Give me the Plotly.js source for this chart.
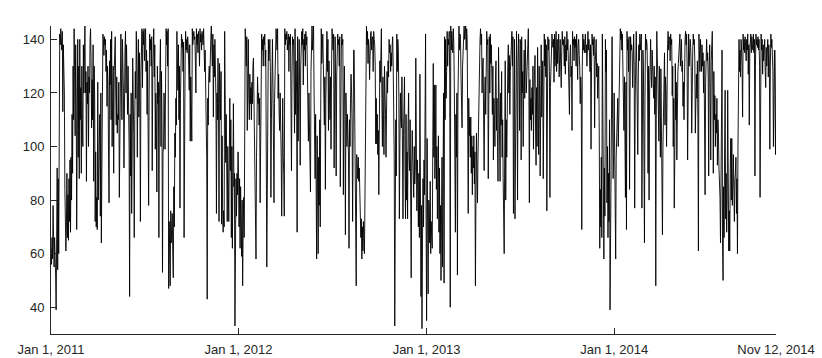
<!DOCTYPE html>
<html>
<head>
<meta charset="utf-8">
<script src="https://cdn.plot.ly/plotly-3.0.1.min.js"></script>
<style>
html,body{margin:0;padding:0;background:#fff;}
#chart{width:822px;height:358px;}
</style>
</head>
<body>
<div id="chart"></div>
<script>
// Daily values, one array per year
var v2011 = [
62,56,66,58,78,60,55,66,60,52,
39,70,92,54,88,60,110,142,138,144,
140,136,143,113,138,130,120,84,62,61,
70,90,66,82,65,88,72,95,68,96,
80,112,90,130,110,144,128,104,138,120,
69,112,140,96,130,88,140,110,122,90,
130,110,100,138,120,132,145,120,128,87,
124,116,130,100,126,120,140,144,132,107,
125,110,138,87,130,118,72,98,70,81,
69,124,80,100,112,112,74,120,64,98,
138,142,140,134,141,138,140,128,136,115,
130,124,96,79,132,123,140,110,143,100,
118,130,90,128,136,141,120,108,126,105,
112,110,124,81,118,138,142,126,110,140,
132,120,92,130,136,143,120,138,127,112,
130,118,100,44,112,89,120,75,98,133,
120,104,66,110,128,118,143,130,96,124,
140,111,135,118,72,128,140,144,122,143,
138,144,132,140,144,128,136,112,132,105,
78,120,142,136,140,130,141,91,128,138,
144,126,138,99,120,110,83,130,116,124,
66,118,132,140,100,128,110,53,98,99,
120,106,99,124,144,138,143,130,144,47,
72,61,48,76,64,70,75,60,51,85,
70,105,96,118,108,143,126,121,138,110,
130,77,118,136,142,137,140,128,139,66,
120,132,143,136,140,135,141,138,130,121,
138,102,126,110,102,144,138,141,143,140,
141,132,120,144,138,142,135,143,140,130,
144,139,142,136,143,141,138,144,135,128,
136,121,112,96,43,118,108,126,130,124,
138,140,145,136,130,142,111,138,126,140,
132,118,75,120,110,133,116,72,131,122,
110,128,71,104,77,68,76,70,143,98,
94,112,80,72,100,74,72,96,118,91,
110,66,100,62,97,116,85,90,33,60,
88,74,90,82,98
];
var v2012 = [
90,70,88,62,85,
76,59,80,48,70,81,66,120,144,138,
130,141,106,125,140,118,110,127,116,122,
110,124,116,130,133,118,104,90,72,58,
96,110,126,116,120,108,118,79,112,130,
142,136,140,130,141,138,142,130,136,110,
55,84,120,140,132,138,140,128,81,110,
126,140,122,108,79,116,130,138,144,140,
136,144,118,127,112,106,120,110,96,74,
104,118,96,90,74,144,138,142,140,143,
136,140,142,128,141,138,142,120,91,126,
141,138,140,122,105,144,112,132,120,68,
141,102,136,140,118,93,130,141,143,138,
144,123,140,136,142,130,143,138,141,126,
132,102,120,110,96,83,128,140,145,136,
143,145,120,101,88,112,96,58,104,82,
60,96,78,110,70,118,144,131,138,142,
131,120,108,126,84,118,136,143,128,140,
106,132,118,110,126,99,130,144,140,136,
142,92,138,141,120,89,126,132,142,138,
140,130,141,85,128,136,142,138,140,82,
118,130,110,67,120,104,100,112,104,96,
62,110,100,118,127,120,108,72,116,136,
136,110,121,93,48,97,90,88,96,87,
92,80,84,66,73,58,70,61,72,66,
60,80,112,130,145,138,143,131,140,136,
125,138,142,143,136,140,141,128,143,140,
138,130,101,118,101,112,97,106,82,120,
132,124,136,144,118,100,126,110,97,130,
124,112,96,110,128,120,132,126,140,135,
138,128,135,130,138,141,130,120,96,33,
70,110,89,142,128,140,136,118,73,101,
120,110,107,126,92,73,104,118,126,90,
73,112,80,98,73,108,120,96,91,110,
84,51,92,106,96,88,81,100,86,92,
133,88,76,95,82,70,90,66,127,80,
44,78,32,64,88,70,95,82,110,142,
72
];
var v2013 = [
35,103,60,45,80,79,64,87,60,72,
66,62,100,131,96,123,88,95,123,84,
100,73,88,104,68,92,60,78,50,70,
96,55,84,120,49,141,110,140,118,128,
143,130,140,138,143,126,40,145,136,143,
140,135,144,138,120,100,68,112,96,120,
52,118,130,145,136,142,140,126,118,107,
130,138,142,145,140,143,145,136,144,140,
120,75,118,104,111,96,111,90,104,82,
100,92,104,86,98,48,80,105,90,79,
96,110,128,136,140,144,138,142,120,130,
133,110,91,118,126,112,132,143,138,140,
88,136,141,120,142,131,138,126,112,130,
95,118,110,100,124,132,106,118,100,87,
137,112,104,87,120,108,128,96,110,88,
76,60,98,132,80,110,96,124,130,138,
120,134,112,128,136,140,143,130,141,75,
120,140,73,118,136,143,126,80,132,142,
130,106,140,138,95,141,120,128,100,124,
136,118,140,130,120,125,134,140,144,128,
79,125,110,118,106,122,112,130,99,120,
126,134,108,93,122,100,137,116,97,130,
120,89,128,138,111,124,132,88,136,142,
130,140,126,138,76,120,141,136,140,128,
81,122,134,130,142,138,137,140,124,142,
130,136,143,128,140,131,138,142,126,136,
140,130,122,136,143,138,140,137,130,141,
127,138,132,143,136,140,124,130,112,134,
138,126,130,106,143,138,140,132,141,137,
140,130,142,136,125,138,140,134,130,116,
126,120,69,130,142,136,140,135,138,142,
135,138,130,141,143,136,140,135,128,138,
99,130,142,138,140,134,141,107,130,136,
140,126,131,118,124,130,105,62,84,70,
96,66,142,110,88,58,92,74,140,128,
136,79,100,66,90,72,110,39,73,96,
120,141,110,88,97
];
var v2014 = [
120,84,100,58,96,104,108,118,100,112,
130,138,144,140,143,136,142,130,120,106,
126,110,81,124,69,143,136,140,128,141,
84,120,141,136,138,135,122,140,142,130,
77,118,136,143,130,112,97,126,138,132,
142,136,140,142,77,120,136,130,110,64,
118,142,136,140,138,126,90,130,80,120,
132,140,128,122,136,130,124,118,130,112,
126,48,110,143,133,127,110,102,130,118,
96,129,110,84,67,100,122,118,135,108,
126,120,100,132,138,143,136,141,140,132,
142,138,140,119,130,100,118,77,96,131,
110,124,95,120,128,131,136,140,142,130,
136,140,128,132,115,124,110,136,140,143,
138,142,130,95,136,142,130,138,140,137,
128,105,130,136,142,138,140,132,105,120,
127,118,132,110,61,142,136,128,140,134,
128,138,130,135,120,132,110,82,124,136,
140,132,135,126,89,130,138,120,95,132,
136,143,120,90,128,110,119,100,112,105,
118,93,110,105,92,86,81,64,88,96,
136,62,50,85,66,100,121,73,90,68,
80,121,88,61,76,61,92,103,80,103,
78,90,97,84,72,88,90,96,75,88,
60,100,118,140,128,136,126,140,136,130,
111,142,136,140,135,141,138,132,140,136,
142,127,138,108,136,140,142,135,141,138,
136,142,135,140,89,130,142,138,140,137,
141,136,140,130,81,128,142,136,140,127,
138,132,136,140,128,122,137,130,136,140,
126,138,132,99,130,142,137,140,136,128,
100,132,136,120,97,136
];
var years = [2011, 2012, 2013, 2014];
var yearValues = [v2011, v2012, v2013, v2014];
var tickVals = ['2011-01-01', '2012-01-01', '2013-01-01', '2014-01-01', '2014-11-12'];
var tickText = ['Jan 1, 2011', 'Jan 1, 2012', 'Jan 1, 2013', 'Jan 1, 2014', 'Nov 12, 2014'];
var yTicks = [40, 60, 80, 100, 120, 140];

function pad(n){return (n<10?'0':'')+n;}
var xs = [], ys = [];
for (var k = 0; k < years.length; k++) {
  var arr = yearValues[k];
  for (var i = 0; i < arr.length; i++) {
    var d = new Date(Date.UTC(years[k], 0, 1 + i));
    xs.push(d.getUTCFullYear() + '-' + pad(d.getUTCMonth()+1) + '-' + pad(d.getUTCDate()));
    ys.push(arr[i]);
  }
}

var trace = {
  x: xs, y: ys, type: 'scatter', mode: 'lines',
  line: {color: '#000000', width: 0.9},
  hoverinfo: 'skip'
};
var axisColor = '#262626';
var layout = {
  width: 822, height: 358,
  margin: {l: 51, r: 46, t: 26, b: 24},
  paper_bgcolor: '#ffffff', plot_bgcolor: '#ffffff',
  showlegend: false,
  font: {family: 'Liberation Sans, Arial, sans-serif', size: 13, color: axisColor},
  xaxis: {
    type: 'date',
    range: ['2011-01-01', '2014-11-12'],
    tickvals: tickVals, ticktext: tickText,
    ticks: 'inside', ticklen: 6, tickwidth: 1, tickcolor: axisColor,
    showline: true, linecolor: axisColor, linewidth: 1,
    showgrid: false, zeroline: false,
    ticklabelstandoff: 3,
    tickfont: {size: 13, color: axisColor}
  },
  yaxis: {
    range: [30, 145],
    tickvals: yTicks,
    ticks: 'inside', ticklen: 6, tickwidth: 1, tickcolor: axisColor,
    showline: true, linecolor: axisColor, linewidth: 1,
    showgrid: false, zeroline: false,
    ticklabelstandoff: 3,
    tickfont: {size: 13, color: axisColor}
  }
};
Plotly.newPlot('chart', [trace], layout, {staticPlot: true, displayModeBar: false});
</script>
</body>
</html>
